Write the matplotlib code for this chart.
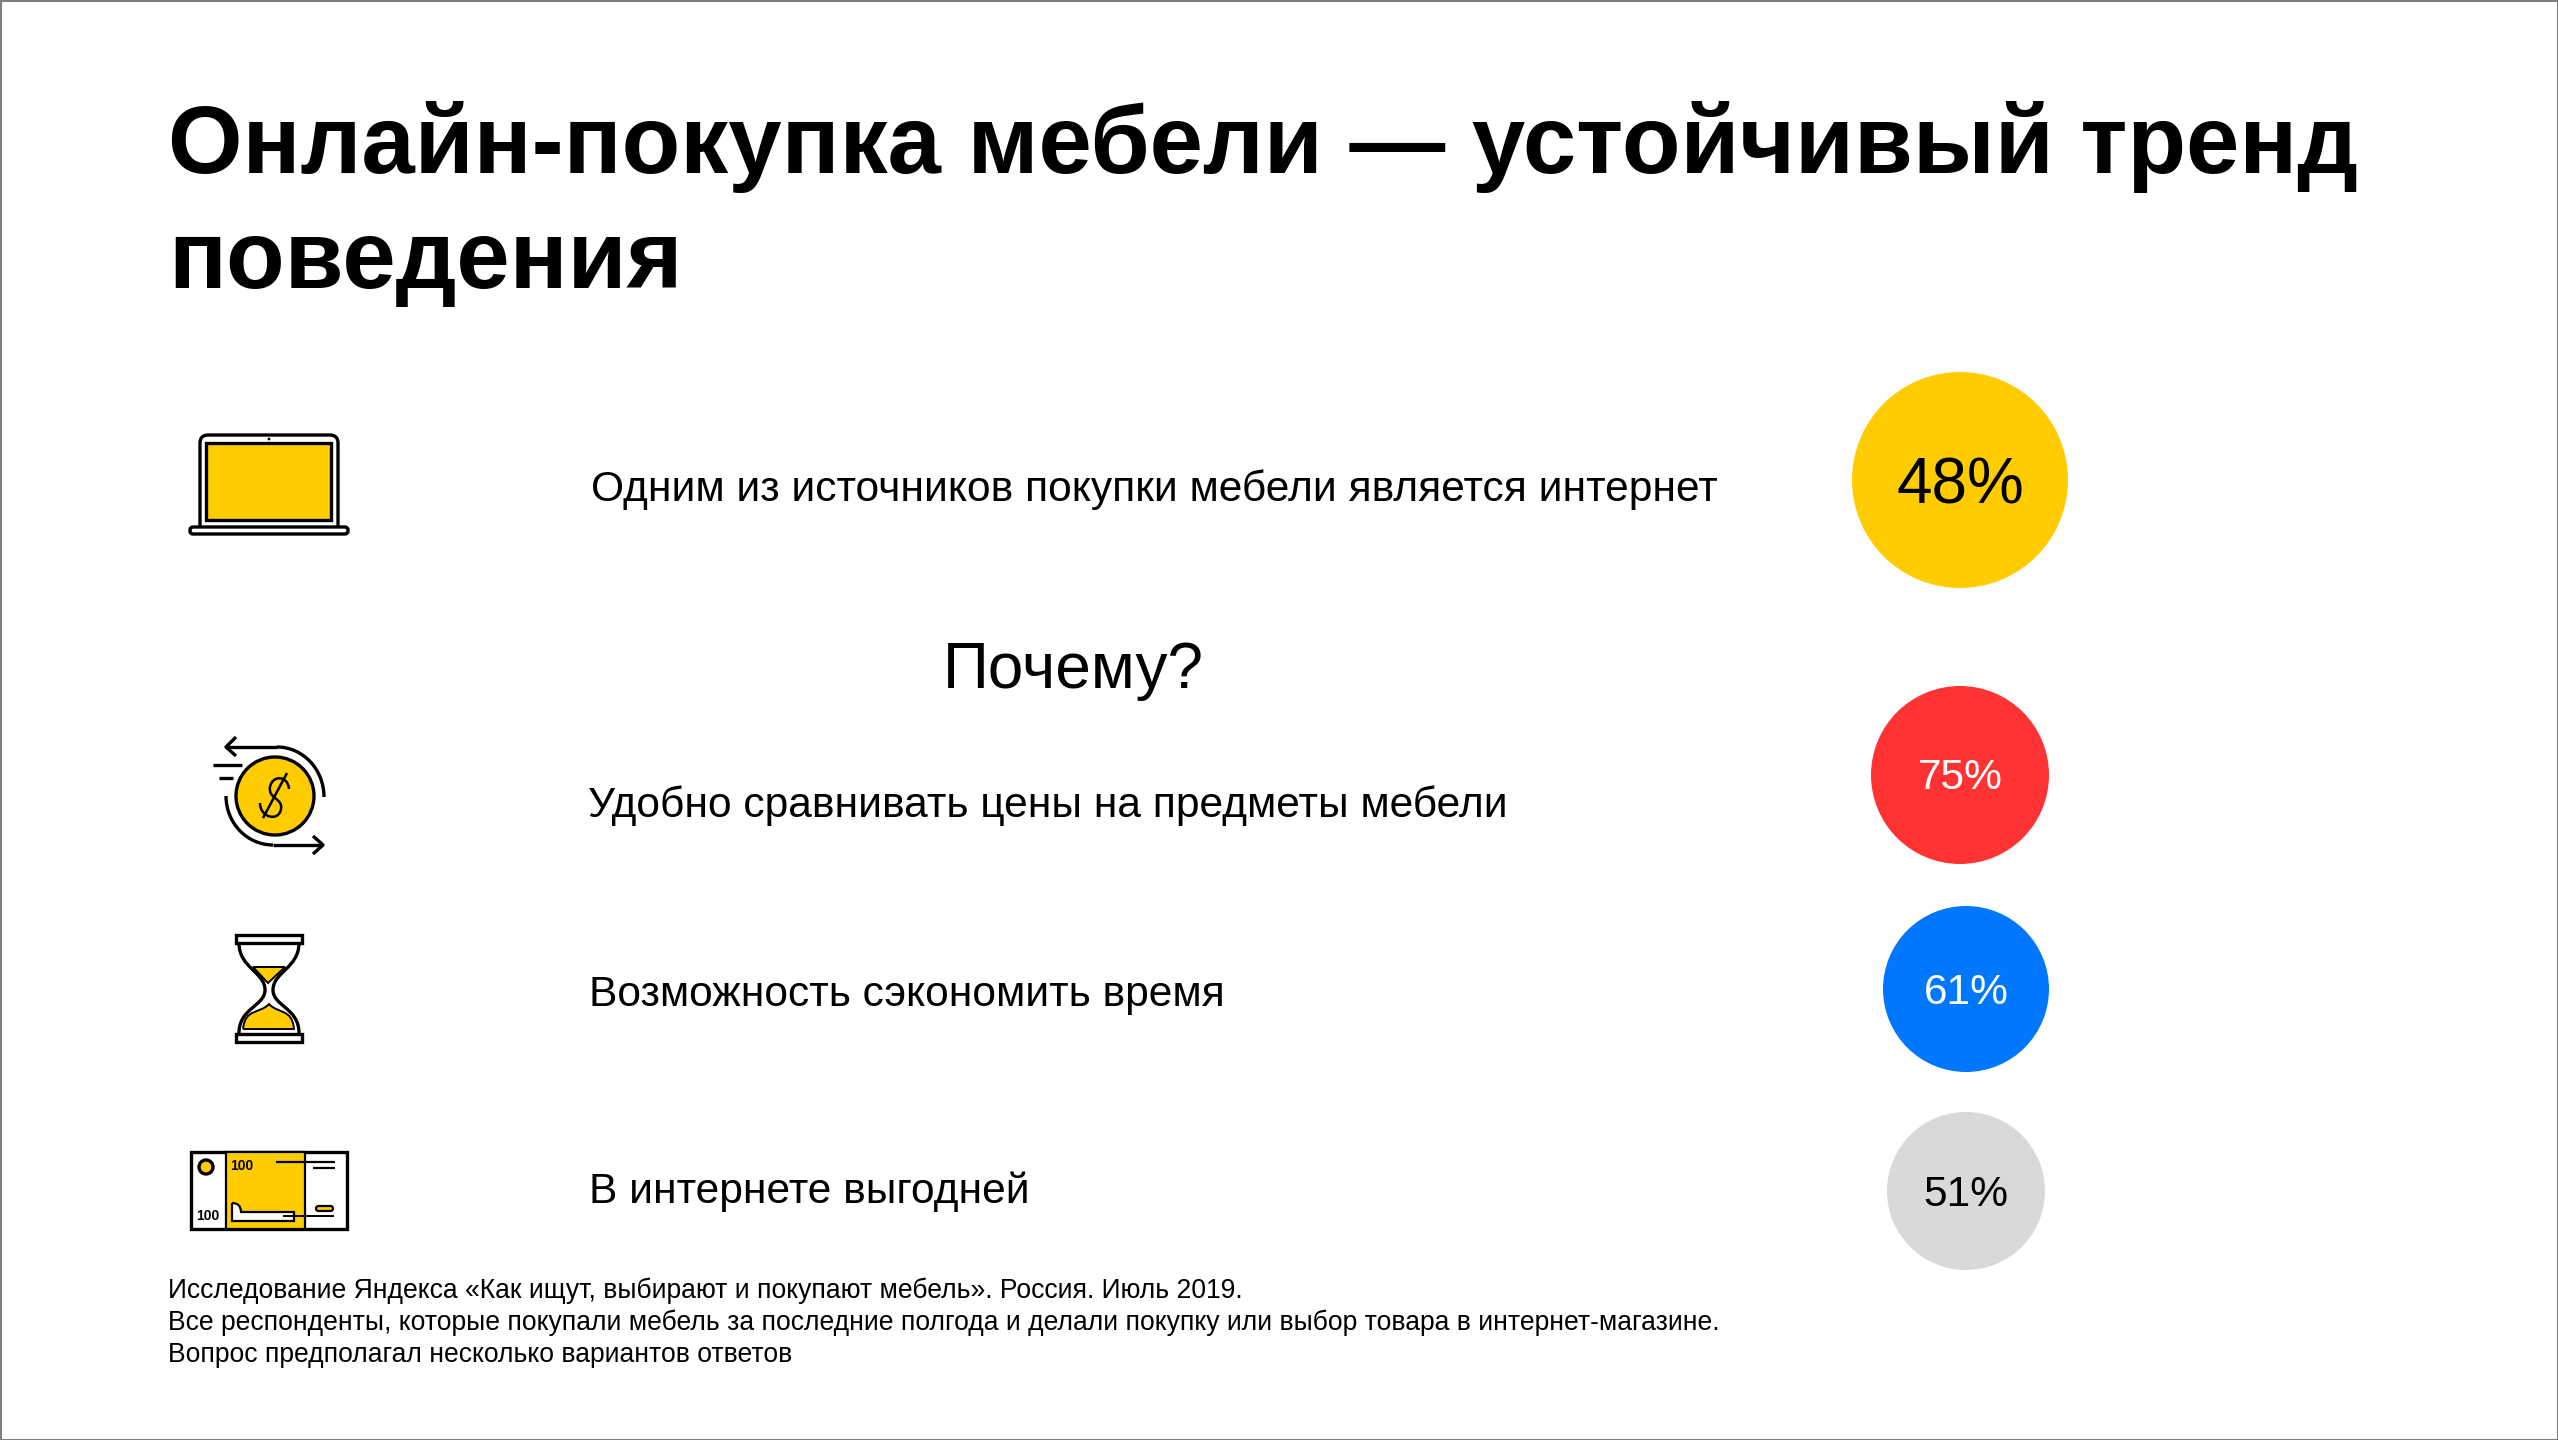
import matplotlib
matplotlib.use('Agg')
import matplotlib.pyplot as plt
from matplotlib.patches import Circle, Rectangle, FancyBboxPatch, PathPatch, Arc, Polygon
from matplotlib.path import Path

plt.rcParams['font.family'] = ['Liberation Sans', 'DejaVu Sans']

TITLE = 'Онлайн-покупка мебели — устойчивый тренд\nповедения'
SUBTITLE = 'Почему?'
LABELS = [
    'Одним из источников покупки мебели является интернет',
    'Удобно сравнивать цены на предметы мебели',
    'Возможность сэкономить время',
    'В интернете выгодней',
]
VALUES = [48, 75, 61, 51]
NOTES = [
    'Исследование Яндекса «Как ищут, выбирают и покупают мебель». Россия. Июль 2019.',
    'Все респонденты, которые покупали мебель за последние полгода и делали покупку или выбор товара в интернет-магазине.',
    'Вопрос предполагал несколько вариантов ответов',
]

YELLOW = '#ffcc00'
RED = '#ff3333'
BLUE = '#0077ff'
GREY = '#d9d9d9'
BLACK = '#000000'

# x, y центра подписи / x, y, радиус и цвет круга
LABEL_POS = [(591, 490), (588, 806), (589, 995), (589, 1192)]
CIRCLES = [(1960, 480, 108, YELLOW, BLACK, 46, 7),
           (1960, 775, 89, RED, 'white', 30.5, 3),
           (1966, 989, 83, BLUE, 'white', 30.5, 4),
           (1966, 1191, 79, GREY, BLACK, 30.5, 4)]
LW = 2.4


def line(ax, xs, ys, lw=LW):
    ax.plot(xs, ys, color=BLACK, lw=lw, solid_capstyle='butt')


def laptop(ax):
    v = [(200, 526), (200, 443), (200, 435), (208, 435), (330, 435), (338, 435), (338, 443), (338, 526)]
    codes = [Path.MOVETO, Path.LINETO, Path.CURVE3, Path.CURVE3, Path.LINETO, Path.CURVE3, Path.CURVE3, Path.LINETO]
    ax.add_patch(PathPatch(Path(v, codes), fc='none', ec=BLACK, lw=LW, joinstyle='round'))
    ax.add_patch(Rectangle((206, 443), 125, 77, fc=YELLOW, ec=BLACK, lw=LW))
    ax.add_patch(FancyBboxPatch((190, 527), 158, 7, boxstyle='round,pad=0,rounding_size=3',
                                fc='white', ec=BLACK, lw=LW))
    ax.add_patch(Circle((269, 439), 1.4, fc=BLACK, ec='none'))


def coin(ax):
    ax.add_patch(Circle((275, 796), 39, fc=YELLOW, ec=BLACK, lw=LW))
    ax.add_patch(Arc((277, 797), 94, 100, theta1=270, theta2=360, color=BLACK, lw=LW))
    ax.add_patch(Arc((273, 796), 94, 98, theta1=90, theta2=180, color=BLACK, lw=LW))
    line(ax, [277, 226], [747, 747])
    line(ax, [236, 226, 236], [737, 747, 756])
    line(ax, [273, 322], [845, 845])
    line(ax, [313, 323, 313], [836, 845, 854])
    line(ax, [213, 242], [765, 765])
    line(ax, [219, 233], [778, 778])
    # знак доллара
    line(ax, [263, 287], [818, 773], lw=1.8)
    s = [(289, 789), (288, 775), (272, 775), (270, 787), (268, 799), (283, 798), (281, 809),
         (279, 822), (260, 818), (260, 803)]
    ax.add_patch(PathPatch(Path(s, [Path.MOVETO] + [Path.CURVE4] * 9), fc='none', ec=BLACK, lw=1.8))


def hourglass(ax):
    v = [(239, 943), (239, 968), (265, 972), (265, 990), (265, 1006), (239, 1008), (239, 1033)]
    codes = [Path.MOVETO] + [Path.CURVE4] * 6
    ax.add_patch(PathPatch(Path(v, codes), fc='none', ec=BLACK, lw=LW))
    m = [(538 - x, y) for x, y in v]
    ax.add_patch(PathPatch(Path(m, codes), fc='none', ec=BLACK, lw=LW))
    ax.add_patch(Polygon([(253, 967), (285, 967), (268, 983)], fc=YELLOW, ec=BLACK, lw=1.4))
    b = [(243, 1029), (245, 1008), (260, 1014), (269, 1004), (278, 1014), (292, 1008), (294, 1029), (243, 1029)]
    ax.add_patch(PathPatch(Path(b, [Path.MOVETO] + [Path.CURVE4] * 6 + [Path.LINETO]), fc=YELLOW, ec=BLACK, lw=1.4))
    ax.add_patch(Rectangle((236, 935), 66, 8, fc='white', ec=BLACK, lw=LW))
    ax.add_patch(Rectangle((236, 1034), 66, 8, fc='white', ec=BLACK, lw=LW))


def banknote(ax):
    ax.add_patch(Rectangle((191, 1152), 156, 77, fc='white', ec=BLACK, lw=LW))
    ax.add_patch(Rectangle((226, 1152), 79, 77, fc=YELLOW, ec=BLACK, lw=1.6))
    ax.add_patch(Circle((206, 1167), 7, fc=YELLOW, ec=BLACK, lw=LW))
    ax.text(242, 1166, '100', fontsize=10, fontweight='bold', ha='center', va='center', color=BLACK)
    ax.text(208, 1216, '100', fontsize=10, fontweight='bold', ha='center', va='center', color=BLACK)
    line(ax, [276, 335], [1162, 1162], lw=1.6)
    line(ax, [313, 335], [1168, 1168], lw=1.6)
    ax.add_patch(FancyBboxPatch((316, 1206), 17, 5, boxstyle='round,pad=0,rounding_size=2.5',
                                fc=YELLOW, ec=BLACK, lw=1.6))
    w = [(232, 1203), (241, 1203), (241, 1212), (294, 1212), (294, 1221), (232, 1221), (232, 1203)]
    ax.add_patch(PathPatch(Path(w, [Path.MOVETO, Path.CURVE3, Path.CURVE3] + [Path.LINETO] * 4),
                           fc='white', ec=BLACK, lw=1.6))
    line(ax, [283, 334], [1216, 1216], lw=1.4)


fig = plt.figure(figsize=(25.58, 14.4), dpi=100, facecolor='white')
ax = fig.add_axes([0, 0, 1, 1])
ax.set_xlim(0, 2558)
ax.set_ylim(1440, 0)
ax.axis('off')

ax.add_patch(Rectangle((0.5, 0.5), 2557, 1439, fc='white', ec='#7f7f7f', lw=1.5))

ax.text(168, 147, TITLE.split('\n')[0], fontsize=69, fontweight='bold', va='center', color=BLACK)
ax.text(168, 263, TITLE.split('\n')[1], fontsize=69, fontweight='bold', va='center', color=BLACK)
ax.text(943, 671, SUBTITLE, fontsize=46, va='center', color=BLACK)

for (x, y), label in zip(LABEL_POS, LABELS):
    ax.text(x, y, label, fontsize=30.6, va='center', color=BLACK)

for (x, y, r, fc, tc, fs, dy), val in zip(CIRCLES, VALUES):
    ax.add_patch(Circle((x, y), r, fc=fc, ec='none'))
    ax.text(x, y + dy, f'{val}%', fontsize=fs, ha='center', va='center', color=tc)

laptop(ax)
coin(ax)
hourglass(ax)
banknote(ax)

for y, note in zip([1291, 1323, 1355], NOTES):
    ax.text(168, y, note, fontsize=19.1, va='center', color=BLACK)

fig.savefig('out.png', dpi=100)
